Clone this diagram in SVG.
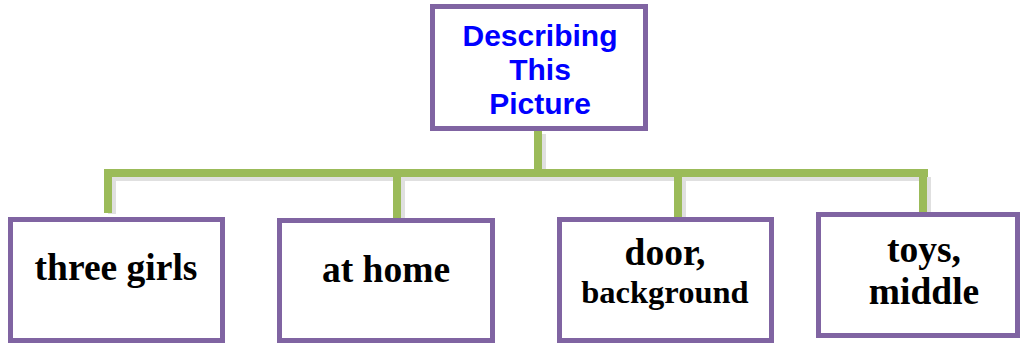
<svg xmlns="http://www.w3.org/2000/svg" width="1021" height="343" viewBox="0 0 1021 343">
<style>
.box{fill:#fff;stroke:#8064A2;stroke-width:5}
.conn{stroke:#9BBB59;stroke-width:8;fill:none;stroke-linecap:butt}
.shadow{stroke:#000;stroke-opacity:0.12;stroke-width:8;fill:none}
.title{font-family:"Liberation Sans",Arial,sans-serif;font-weight:bold;font-size:30px;fill:#0000FF;text-anchor:middle}
.lbl{font-family:"Liberation Serif","Times New Roman",serif;font-weight:bold;font-size:37.5px;fill:#000;text-anchor:middle}
.sm{font-size:32.5px}
</style>
<rect width="1021" height="343" fill="#fff"/>
<g id="connectors">
<path class="shadow" d="M104 177 H928 M112 177 V214 M401 177 V219 M682 177 V222 M927 177 V214 M542 134 V177"/>
<path class="conn" d="M538 130 V173"/>
<path class="conn" d="M104 173 H928"/>
<path class="conn" d="M108 173 V213"/>
<path class="conn" d="M397 173 V218"/>
<path class="conn" d="M678 173 V221"/>
<path class="conn" d="M923 169 V213"/>
</g>
<g id="root">
<rect class="box" x="432.5" y="6.5" width="213" height="122"/>
<text class="title" x="540" y="46">Describing</text>
<text class="title" x="540" y="80">This</text>
<text class="title" x="540" y="114">Picture</text>
</g>
<g id="n1">
<rect class="box" x="10.5" y="219.5" width="212" height="121"/>
<text class="lbl" x="116" y="280">three girls</text>
</g>
<g id="n2">
<rect class="box" x="279.5" y="220.5" width="213" height="120"/>
<text class="lbl" x="386" y="282">at home</text>
</g>
<g id="n3">
<rect class="box" x="559.5" y="219.5" width="212" height="121"/>
<text class="lbl" x="665" y="265">door,</text>
<text class="lbl sm" x="665" y="303">background</text>
</g>
<g id="n4">
<rect class="box" x="818.5" y="214.5" width="199" height="121"/>
<text class="lbl" x="924" y="262">toys,</text>
<text class="lbl" x="924" y="304">middle</text>
</g>
</svg>
